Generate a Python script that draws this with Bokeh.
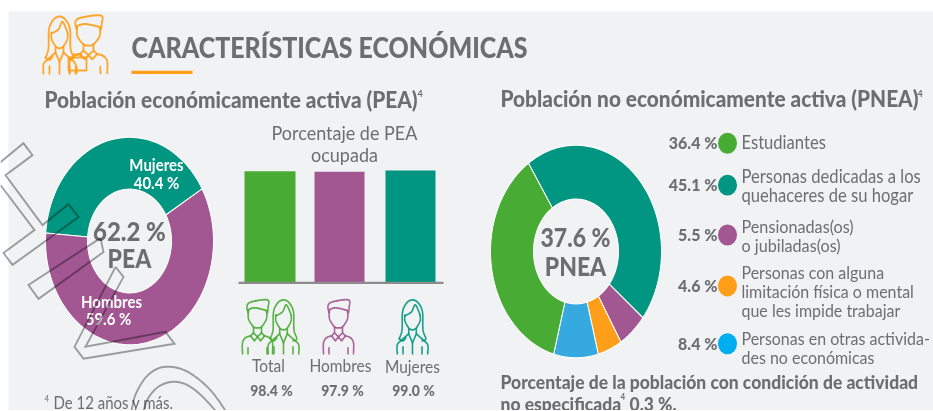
import numpy as np
from bokeh.plotting import figure
from bokeh.models import Range1d
from bokeh.core.properties import value
from bokeh.embed import file_html
from bokeh.resources import INLINE

TITLE = "CARACTERÍSTICAS ECONÓMICAS"
PEA_HEAD = "Población económicamente activa (PEA)"
PNEA_HEAD = "Población no económicamente activa (PNEA)"
pea_labels = ["Mujeres", "Hombres"]
pea_values = [40.4, 59.6]
bar_labels = ["Total", "Hombres", "Mujeres"]
bar_values = [98.4, 97.9, 99.0]
pnea_values = [45.1, 5.5, 4.6, 8.4, 36.4]
legend_values = [36.4, 45.1, 5.5, 4.6, 8.4]
legend_lines = [
    ["Estudiantes"],
    ["Personas dedicadas a los", "quehaceres de su hogar"],
    ["Pensionadas(os)", "o jubiladas(os)"],
    ["Personas con alguna", "limitación física o mental", "que les impide trabajar"],
    ["Personas en otras activida-", "des no económicas"],
]

GREEN, TEAL, PURPLE, ORANGE, SKY, DOT_SKY = "#47AB34", "#009681", "#A25792", "#FF9E18", "#36A9E1", "#00AEEF"
INK, BG = "#6D6E71", "#F1F2F4"
FONT = "Lato"
HEAVY = "Lato Black"

# The reference is a picture stretched vertically, so the figure is stretched the same way.
# Bokeh applies these styles to two nested elements, so each carries the square root of 1.2417.
p = figure(width=933, height=331, output_backend="svg", toolbar_location=None,
           x_range=Range1d(0, 933), y_range=Range1d(411, 0),
           x_axis_location=None, y_axis_location=None, min_border=0,
           outline_line_color=None, background_fill_color="white", border_fill_color="white")
p.grid.visible = False
p.styles = {"position": "fixed", "left": "0", "top": "0",
            "transform-origin": "0 0", "transform": "scale(1, 1.11432)"}
# bar values get a scale of their own: 283 px is 0 %, 1.138 px per point
p.extra_y_ranges["pct"] = Range1d((283 - 411) / 1.138, 283 / 1.138)

p.quad(left=[8], right=[933], top=[11], bottom=[411], fill_color=BG, line_color=None)


def donut(vals, colors, cx, cy, rx, ry, irx, iry, start_cw):
    """start_cw: degrees clockwise from 12 o'clock of the first boundary"""
    edges = start_cw + np.cumsum([0] + list(vals)) * 3.6
    xs, ys = [], []
    for a, b in zip(edges[:-1], edges[1:]):
        t = np.radians(np.linspace(a, b, 80))
        xs.append(np.r_[cx + rx * np.sin(t), cx + irx * np.sin(t[::-1])])
        ys.append(np.r_[cy - ry * np.cos(t), cy - iry * np.cos(t[::-1])])
    p.patches(xs, ys, fill_color=colors, line_color="white", line_width=1)


donut(pea_values, [TEAL, PURPLE], 129, 241, 84, 104, 42, 52, -85.6)
donut(pnea_values, [TEAL, PURPLE, ORANGE, SKY, GREEN], 575.5, 251.5, 85.5, 106.5, 42.5, 52.5, -33.8)

# bars
p.vbar(x=[269.5, 339, 410], width=[51, 50, 50], bottom=0, top=bar_values, y_range_name="pct",
       fill_color=[GREEN, PURPLE, TEAL], line_color=None)
p.line([238, 443], [283, 283], line_color="#8C8C8C", line_width=2)


def smooth(pts, n=8):
    pts = np.array(pts, float)
    q = np.vstack([pts[0], pts, pts[-1]])
    out = []
    for i in range(1, len(q) - 2):
        for t in np.linspace(0, 1, n, endpoint=False):
            out.append(0.5 * (2 * q[i] + (q[i + 1] - q[i - 1]) * t
                              + (2 * q[i - 1] - 5 * q[i] + 4 * q[i + 1] - q[i + 2]) * t ** 2
                              + (3 * q[i] - q[i - 1] - 3 * q[i + 1] + q[i + 2]) * t ** 3))
    out.append(pts[-1])
    return np.array(out)


MAN = [
    smooth([(-9.5, 13), (-10.5, 6), (-6, 2), (10, 0), (10.5, 8), (10, 13)]),
    smooth([(-9.5, 10), (-4, 8), (3, 9), (9.5, 11)]),
    smooth([(-9, 11), (-9, 19), (-4, 27), (0, 28), (4, 27), (9, 19), (9, 11)]),
    [(-4, 27), (-4, 33), (0, 37), (4, 33), (4, 27)],
    [(-4, 33), (-7, 36), (-3, 41), (0, 37), (3, 41), (7, 36), (4, 33)],
    smooth([(-15, 54), (-15, 43), (-12, 38), (-7, 36)]),
    smooth([(15, 54), (15, 43), (12, 38), (7, 36)]),
    [(-9.5, 48), (-9.5, 54)],
    [(9.5, 48), (9.5, 54)],
]
WOMAN = [
    smooth([(-14, 39), (-11, 30), (-10.5, 12), (-6, 3), (0, 0), (6, 3), (10.5, 12), (11, 30), (14, 39), (10, 41)]),
    smooth([(-8, 16), (-1, 12), (3, 5), (8, 15)]),
    smooth([(-8, 15), (-8, 21), (-4, 28), (0, 30), (4, 28), (8, 21), (8, 15)]),
    smooth([(-14, 39), (-10, 41), (-7, 38)]),
    [(-4, 29), (-4, 34), (0, 43), (4, 34), (4, 29)],
    smooth([(-16, 54), (-16, 45), (-11, 40), (-4, 34)]),
    smooth([(16, 54), (16, 45), (11, 40), (4, 34)]),
    [(0, 43), (0, 54)],
    [(-10, 47), (-10, 54)],
    [(10, 47), (10, 54)],
]


def person(shape, cx, top, sx, sy, color, lw=1.6):
    xs = [[cx + a * sx for a, _ in s] for s in shape]
    ys = [[top + b * sy for _, b in s] for s in shape]
    p.multi_line(xs, ys, line_color=color, line_width=lw, line_alpha=0.9, line_join="round", line_cap="round")


person(MAN, 257, 300, 1.0, 1.0, GREEN)
person(WOMAN, 283, 300, 0.95, 1.0, GREEN)
person(MAN, 338, 300, 1.0, 1.0, PURPLE)
person(WOMAN, 412, 300, 0.95, 1.0, TEAL)
person(WOMAN, 59, 16, 1.0, 1.06, ORANGE, 1.8)
person(MAN, 88, 15, 1.25, 1.07, ORANGE, 1.8)
p.multi_line([[68, 86, 86, 68, 68], [73, 73, 81, 81]], [[57, 57, 70, 70, 57], [57, 54, 54, 57]],
             line_color=ORANGE, line_width=1.8, line_alpha=0.9)
p.line([131, 192], [72, 72], line_color=ORANGE, line_width=3)


def txt(x, y, s, size, color=INK, bold=False, align="left", font=FONT):
    p.text(x=[x], y=[y - 0.07 * size], text=[s], text_font=value(font), text_font_size=f"{size}px",
           text_font_style="bold" if bold else "normal", text_color=color,
           text_align=align, text_baseline="middle")


def heavy(x, y, s, size, align="left"):
    txt(x, y, s, size, bold=True, align=align, font=HEAVY)


heavy(131, 48, TITLE, 25)
heavy(44, 100, PEA_HEAD, 20.8)
txt(417, 93, "4", 9, bold=True)
heavy(500, 99, PNEA_HEAD, 20.8)
txt(917, 93, "4", 9, bold=True)

heavy(129, 232, f"{62.2} %", 24, "center")
heavy(129, 260, "PEA", 23, "center")
heavy(575, 239, f"{37.6} %", 23, "center")
heavy(575, 268, "PNEA", 23, "center")

txt(156, 165, pea_labels[0], 15, "white", True, "center")
txt(156, 183, f"{pea_values[0]} %", 15, "white", True, "center")
txt(111, 302, pea_labels[1], 15, "white", True, "center")
txt(108, 320, f"{pea_values[1]} %", 15, "white", True, "center")

txt(344, 133, "Porcentaje de PEA", 18, align="center")
txt(344, 155, "ocupada", 18, align="center")
for lab, v, cl, cv, yl in zip(bar_labels, bar_values, [268, 340, 412], [271, 342, 413], [367, 367, 368]):
    txt(cl, yl, lab, 15.5, align="center")
    heavy(cv, 391, f"{v} %", 14, "center")

txt(44, 400, "4", 8)
txt(53, 404, "De 12 años y más.", 15)

rows_y = [143, 185, 235, 286, 344]
rows_c = [GREEN, TEAL, PURPLE, ORANGE, DOT_SKY]
line_y = [[143], [177, 196], [227, 246], [273, 292, 311], [339, 358]]
line_size = [16.6, 16.6, 16.2, 16, 16]
p.ellipse(x=[727] * 5, y=rows_y, width=19, height=21, fill_color=rows_c, line_color=None)
for v, y, lines, ly, sz in zip(legend_values, rows_y, legend_lines, line_y, line_size):
    heavy(717, y, f"{v} %", 16, "right")
    for s, yy in zip(lines, ly):
        txt(741, yy, s, sz)

heavy(500, 383, "Porcentaje de la población con condición de actividad", 17.5)
heavy(500, 405, "no especificada", 17.5)
txt(620, 398, "4", 8, bold=True)
heavy(629, 405, "0.3 %.", 17.5)

# hollow decorative outlines lying over the left donut
outlines = [
    [(0, 162), (23, 143), (32, 155), (5, 175), (42, 225), (68, 204), (78, 217), (12, 265), (3, 253), (34, 230), (0, 185)],
    [(100, 238), (103, 252), (38, 299), (28, 285), (100, 238)],
    [(115, 267), (123, 277), (85, 347), (165, 332), (174, 344), (83, 359), (74, 347), (115, 267)],
    smooth([(131, 411), (135, 395), (145, 378), (157, 369), (170, 367), (185, 371), (200, 381), (213, 394), (225, 411)]).tolist(),
    smooth([(143, 411), (148, 398), (158, 387), (172, 382), (186, 385), (200, 395), (215, 411)]).tolist(),
]
p.multi_line([[a for a, _ in o] for o in outlines], [[b for _, b in o] for o in outlines],
             line_color="black", line_alpha=0.36, line_width=1.8, line_join="miter")

open("out.html", "w").write(file_html(p, INLINE))
